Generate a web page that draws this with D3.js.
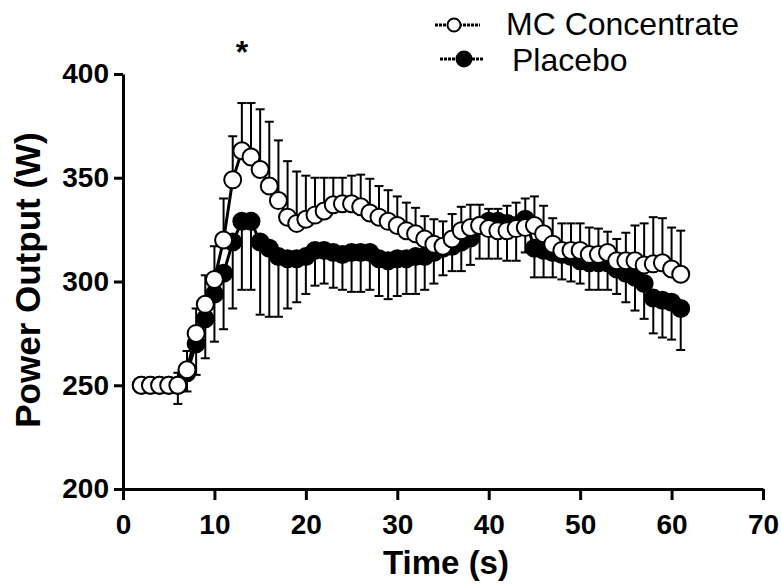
<!DOCTYPE html>
<html>
<head>
<meta charset="utf-8">
<script src="https://cdn.jsdelivr.net/npm/d3@7"></script>
<style>
body { margin: 0; background: #fff; }
svg { display: block; }
text { font-family: "Liberation Sans", Arial, sans-serif; fill: #000; }
</style>
</head>
<body>
<svg id="chart" width="781" height="585"></svg>
<script>
// time (s)
let times = [2,3,4,5,6,7,8,9,10,11,12,13,14,15,16,17,18,19,20,21,22,23,24,25,26,27,28,29,30,31,
             32,33,34,35,36,37,38,39,40,41,42,43,44,45,46,47,48,49,50,51,52,53,54,55,56,57,58,59,60,61];

// MC Concentrate: mean and SEM (drawn upwards)
let mcMean = [250,250,250,250,250,257.5,275,289,301,320,349,363,360,354,346,339,331,328,330,332,
              334,337,337.5,337.5,336,333,331,329,327,324.5,323,320.5,318,317,320.5,324.5,326,327,325.5,324.5,
              324.5,325.5,326,327,323,318,315,315,315,313,313,314,310,310,310,308,308.5,309,306,303.5];
let mcErr = [0,0,0,0,6,9,12,14,16,20,21,23,26,29,31,29,27,25,21,18,
             16,13,12.5,13.5,15.5,16.5,15,15,14,13.5,12.5,11,12,12,12,11.5,11,10,9.5,10.5,
             12,12.5,14,14,13.5,12.5,13,13,13,13,12.5,10,10.5,13.5,17,20,22.5,21.5,20,21];

// Placebo: mean and SEM (drawn downwards)
let plMean = [250,250,250,250,250,256,270,282,294,304,319,329,329,319,316,312,311,311,312,315,
              315,314,313,314,314,314,311,310,311,311,312,312,314,316,317,319,321,327,329,329,
              328,327,330,316,315,314,313,312,310,309,309,309,306,304,302,299,292,291,290,287];
let plErr = [0,0,0,0,9,9,15,19,23,27,32,33,33,35,33,29,24,21,18,17,
             16,17,17,19,19,18,18,18.5,18,17,18,16,15,13,12,14,13,16,18,18,
             18,17,16,14,13,12,12,12,11,13,13,13,12,14,16,17,17,18,18,20];

let xTicks = [0,10,20,30,40,50,60,70];
let yTicks = [200,250,300,350,400];
let seriesNames = ["MC Concentrate","Placebo"];

let svg = d3.select("#chart");
let x = d3.scaleLinear([0,70],[123,763]);
let y = d3.scaleLinear([200,400],[489,74]);

function build(mean, err, dir) {
    return times.map((t,i) => ({t:t, v:mean[i], e:err[i], end:mean[i] + dir*err[i]}));
}
let mc = build(mcMean, mcErr, 1);
let pl = build(plMean, plErr, -1);

function drawSeries(data, fill, cls) {
    let g = svg.append("g").attr("class", cls);
    let bars = data.filter(d => d.e > 0);
    g.selectAll(".bar").data(bars).join("line")
        .attr("class","bar")
        .attr("x1", d => x(d.t)).attr("x2", d => x(d.t))
        .attr("y1", d => y(d.v)).attr("y2", d => y(d.end))
        .attr("stroke","#000").attr("stroke-width",2);
    g.selectAll(".cap").data(bars).join("line")
        .attr("class","cap")
        .attr("x1", d => x(d.t) - 4.5).attr("x2", d => x(d.t) + 4.5)
        .attr("y1", d => y(d.end)).attr("y2", d => y(d.end))
        .attr("stroke","#000").attr("stroke-width",2);
    g.append("path").datum(data)
        .attr("fill","none").attr("stroke","#000").attr("stroke-width",3)
        .attr("d", d3.line().x(d => x(d.t)).y(d => y(d.v)));
    g.selectAll("circle").data(data).join("circle")
        .attr("cx", d => x(d.t)).attr("cy", d => y(d.v))
        .attr("r",8.5)
        .attr("fill",fill).attr("stroke","#000").attr("stroke-width",2);
}

drawSeries(pl, "#000", "placebo");
drawSeries(mc, "#fff", "mc");

// axes
let yAxis = svg.append("g")
    .attr("transform","translate(123,0)")
    .call(d3.axisLeft(y).tickValues(yTicks).tickSize(9).tickSizeOuter(0).tickPadding(5));
let xAxis = svg.append("g")
    .attr("transform","translate(0,489)")
    .call(d3.axisBottom(x).tickValues(xTicks).tickSize(11).tickSizeOuter(0).tickPadding(14));
[yAxis, xAxis].forEach(a => {
    a.select(".domain").attr("stroke","#000").attr("stroke-width",3);
    a.selectAll(".tick line").attr("stroke","#000").attr("stroke-width",3);
    a.selectAll(".tick text")
        .attr("fill","#000")
        .style("font-family","'Liberation Sans', Arial, sans-serif")
        .style("font-size","28px").style("font-weight","bold");
});

// axis titles
svg.append("text")
    .attr("transform","translate(40,280) rotate(-90)")
    .attr("text-anchor","middle")
    .style("font-size","35px").style("font-weight","bold")
    .text("Power Output (W)");
svg.append("text")
    .attr("x",446).attr("y",574)
    .attr("text-anchor","middle")
    .style("font-size","33px").style("font-weight","bold")
    .text("Time (s)");

// significance marker
svg.append("text")
    .attr("x",x(13)).attr("y",63)
    .attr("text-anchor","middle")
    .style("font-size","32px").style("font-weight","bold")
    .text("*");

// legend
let legend = svg.append("g").attr("class","legend");
let legFills = ["#fff","#000"];
let legY = [25,59];
let legCx = [454,464];
let legR = [6.5,7.5];
let legX1 = [435,440];
let legX2 = [480,484];
let legTextX = [506,512];
seriesNames.forEach((name,i) => {
    let row = legend.append("g");
    row.append("line")
        .attr("x1",legX1[i]).attr("x2",legX2[i])
        .attr("y1",legY[i]).attr("y2",legY[i])
        .attr("stroke","#000").attr("stroke-width",3)
        .attr("stroke-dasharray","3,1");
    row.append("circle")
        .attr("cx",legCx[i]).attr("cy",legY[i]).attr("r",legR[i])
        .attr("fill",legFills[i]).attr("stroke","#000").attr("stroke-width",2);
    row.append("text")
        .attr("x",legTextX[i]).attr("y",[35,71][i])
        .style("font-size","32px")
        .text(name);
});
</script>
</body>
</html>
